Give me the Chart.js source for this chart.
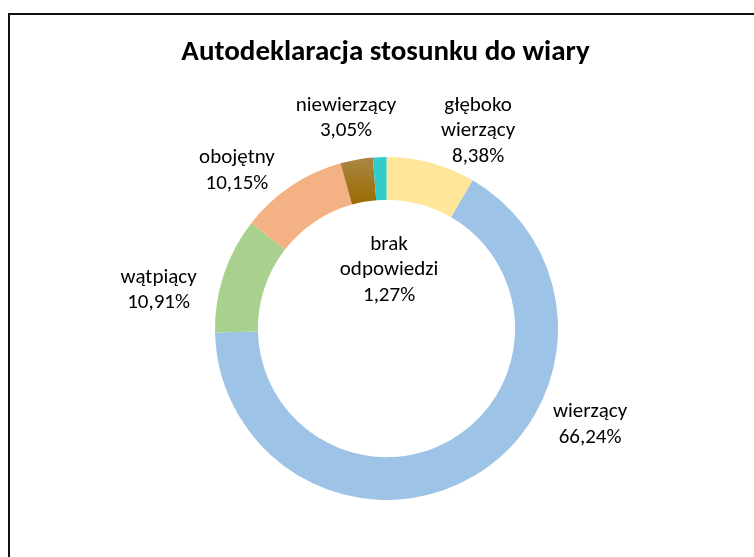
<!DOCTYPE html>
<html>
<head>
<meta charset="utf-8">
<script src="https://cdn.jsdelivr.net/npm/chart.js@4.4.1/dist/chart.umd.min.js"></script>
<style>
  html, body { margin: 0; padding: 0; background: #fff; }
  #wrap { position: relative; width: 754px; height: 557px; overflow: hidden; }
  #frame { position: absolute; left: 8px; top: 13px; width: 900px; height: 700px;
           border-left: 2px solid #111; border-top: 2px solid #111; box-sizing: border-box; }
  #wrap canvas { position: absolute; left: 0; top: 0; }
</style>
</head>
<body>
<div id="wrap">
  <div id="frame"></div>
  <canvas id="faithChart" width="754" height="557"></canvas>
</div>
<script>
const title = 'Autodeklaracja stosunku do wiary';
const categories = [['głęboko', 'wierzący'], ['wierzący'], ['wątpiący'], ['obojętny'], ['niewierzący'], ['brak', 'odpowiedzi']];
const shares = [8.38, 66.24, 10.91, 10.15, 3.05, 1.27];
const colors = ['#FFE699', '#9DC3E6', '#A9D18E', '#F4B183', 'brown', '#33CCCC'];

const FONT = 'Carlito, Calibri, Lato, sans-serif';

// where Excel put each label, relative to the ring centre, in units of outer radius
const labelOffsets = [
  [0.534, -1.152], [1.187, 0.560], [-1.329, -0.224],
  [-0.872, -0.921], [-0.236, -1.227], [0.015, -0.341]
];

function sliceColor(c) {
  const col = colors[c.dataIndex];
  if (col !== 'brown') return col;
  const area = c.chart.chartArea;
  if (!area) return '#A0741A';
  const g = c.chart.ctx.createLinearGradient(0, area.top, 0, area.top + 48);
  g.addColorStop(0, '#AB8745');
  g.addColorStop(1, '#9A6A00');
  return g;
}

const labelPlugin = {
  id: 'labels',
  afterDatasetsDraw(chart) {
    const ctx = chart.ctx;
    const arcs = chart.getDatasetMeta(0).data;
    ctx.save();
    ctx.fillStyle = '#000';
    ctx.textAlign = 'center';
    ctx.textBaseline = 'middle';
    // title
    ctx.font = 'bold 29px ' + FONT;
    ctx.fillText(title, arcs[0].x - 1, 53);
    ctx.font = '21px ' + FONT;
    const lh = 25.5;
    arcs.forEach((arc, i) => {
      const lines = categories[i].concat(shares[i].toFixed(2).replace('.', ',') + '%');
      const cx = arc.x + labelOffsets[i][0] * arc.outerRadius;
      const cy = arc.y + labelOffsets[i][1] * arc.outerRadius;
      lines.forEach((t, k) => {
        ctx.fillText(t, cx, cy + (k - (lines.length - 1) / 2) * lh);
      });
    });
    ctx.restore();
  }
};

new Chart(document.getElementById('faithChart'), {
  type: 'doughnut',
  data: {
    labels: categories.map(c => c.join(' ')),
    datasets: [{
      data: shares,
      backgroundColor: sliceColor,
      borderWidth: 0
    }]
  },
  options: {
    responsive: false,
    animation: false,
    cutout: '75%',
    layout: { padding: { left: 215, right: 196, top: 157, bottom: 57 } },
    plugins: {
      legend: { display: false },
      title: { display: false },
      tooltip: { enabled: false }
    }
  },
  plugins: [labelPlugin]
});
</script>
</body>
</html>
